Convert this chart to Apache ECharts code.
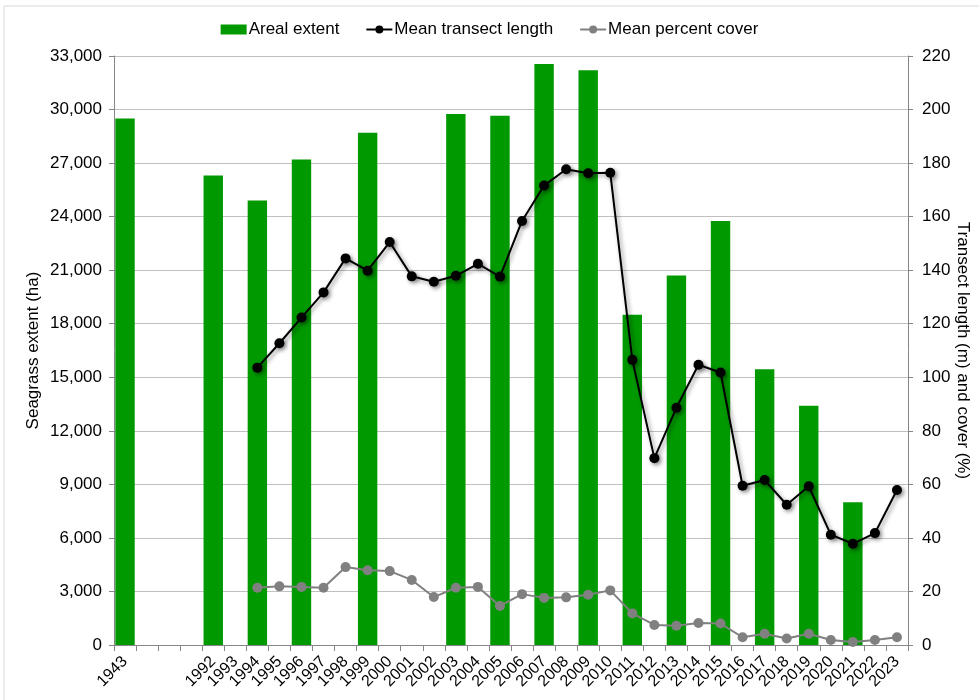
<!DOCTYPE html>
<html><head><meta charset="utf-8">
<script src="https://cdn.jsdelivr.net/npm/echarts@6/dist/echarts.min.js"></script>
<style>html,body{margin:0;padding:0;background:#fff}#c{width:979px;height:700px}</style>
</head><body><div id="c"></div>
<script>
const categories = ['1943',' ','  ','   ','1992','1993','1994','1995','1996','1997','1998','1999','2000','2001','2002','2003','2004','2005','2006','2007','2008','2009','2010','2011','2012','2013','2014','2015','2016','2017','2018','2019','2020','2021','2022','2023'];
const arealExtent = [29500,null,null,null,26300,null,24900,null,27200,null,null,28700,null,null,null,29750,null,29650,null,32550,null,32200,null,18500,null,20700,null,23750,null,15450,null,13400,null,8000,null,null];
const transectLength = [null,null,null,null,null,null,103.6,112.7,122.3,131.7,144.4,139.8,150.5,137.7,135.7,137.9,142.4,137.6,158.4,171.6,177.7,176.2,176.4,106.5,69.8,88.6,104.7,101.8,59.5,61.6,52.4,59.3,41.2,37.8,41.8,57.9];
const percentCover = [null,null,null,null,null,null,21.4,21.9,21.7,21.4,29.1,27.9,27.6,24.3,17.9,21.4,21.7,14.6,19.0,17.6,17.8,18.8,20.4,11.8,7.5,7.2,8.2,8.0,2.9,4.2,2.4,4.2,1.9,1.1,1.9,2.9];
const seriesNames = ['Areal extent','Mean transect length','Mean percent cover'];

const font = 'Liberation Sans, Arial, sans-serif';
const chart = echarts.init(document.getElementById('c'), null, {renderer:'canvas'});
chart.setOption({
  animation:false,
  textStyle:{fontFamily:font},
  graphic:[{type:'rect',shape:{x:4,y:6,width:990,height:700},style:{fill:'none',stroke:'#d9d9d9',lineWidth:1},silent:true}],
  legend:{
    top:16, left:'center', itemGap:26, itemWidth:26, itemHeight:10,
    textStyle:{fontSize:17,color:'#000',fontFamily:font,padding:[0,0,0,-3]},
    data:[{name:seriesNames[0],icon:'rect'},{name:seriesNames[1]},{name:seriesNames[2]}]
  },
  grid:{left:114,right:71,top:56,bottom:55,containLabel:false,outerBoundsMode:'none'},
  xAxis:{
    type:'category', data:categories,
    axisLine:{lineStyle:{color:'#868686',width:1}},
    axisTick:{show:true,alignWithLabel:false,interval:0,length:6,lineStyle:{color:'#868686'}},
    axisLabel:{interval:0,rotate:45,fontSize:16,color:'#000',margin:14,fontFamily:font},
    splitLine:{show:false}
  },
  yAxis:[{
    type:'value', min:0, max:33000, interval:3000, position:'left',
    name:'Seagrass extent (ha)', nameLocation:'middle', nameGap:72, nameMoveOverlap:false,
    nameTextStyle:{fontSize:17,color:'#000',fontFamily:font},
    axisLine:{show:true,lineStyle:{color:'#868686'}},
    axisTick:{show:true,length:5,lineStyle:{color:'#868686'}},
    axisLabel:{fontSize:17,color:'#000',margin:12,fontFamily:font,
      formatter:v=>v.toLocaleString('en-US')},
    splitLine:{show:true,lineStyle:{color:'#c0c0c0',width:1}}
  },{
    type:'value', min:0, max:220, interval:20, position:'right',
    name:'Transect length (m) and cover (%)', nameLocation:'middle', nameGap:46, nameRotate:-90, nameMoveOverlap:false,
    nameTextStyle:{fontSize:17,color:'#000',fontFamily:font},
    axisLine:{show:true,lineStyle:{color:'#868686'}},
    axisTick:{show:true,length:5,lineStyle:{color:'#868686'}},
    axisLabel:{fontSize:17,color:'#000',margin:14,fontFamily:font},
    splitLine:{show:false}
  }],
  series:[{
    name:seriesNames[0], type:'bar', data:arealExtent, yAxisIndex:0,
    barWidth:'88%', itemStyle:{color:'#009900'}
  },{
    name:seriesNames[1], type:'line', data:transectLength, yAxisIndex:1,
    symbol:'circle', symbolSize:10, showAllSymbol:true,
    lineStyle:{color:'#000',width:2,shadowColor:'rgba(0,0,0,0.45)',shadowBlur:4,shadowOffsetX:2,shadowOffsetY:2},
    itemStyle:{color:'#000',shadowColor:'rgba(0,0,0,0.45)',shadowBlur:4,shadowOffsetX:2,shadowOffsetY:2}
  },{
    name:seriesNames[2], type:'line', data:percentCover, yAxisIndex:1,
    symbol:'circle', symbolSize:10, showAllSymbol:true,
    lineStyle:{color:'#808080',width:2},
    itemStyle:{color:'#808080'}
  }]
});
</script></body></html>
